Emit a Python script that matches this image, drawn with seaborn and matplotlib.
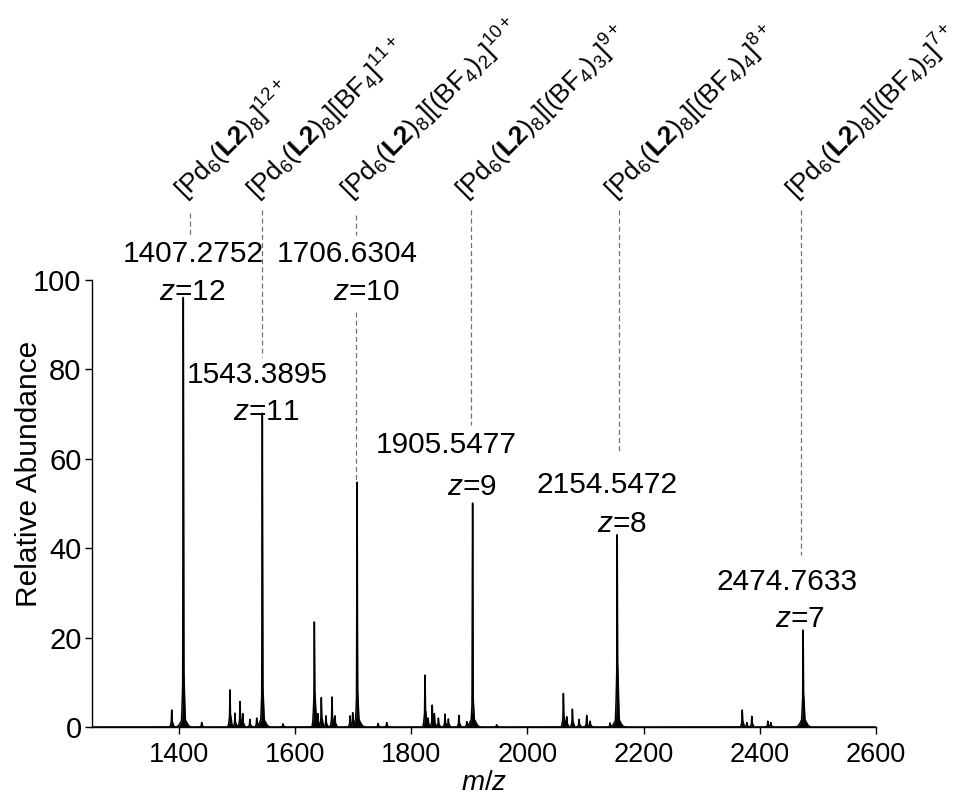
import numpy as np
import pandas as pd
import matplotlib
matplotlib.use("Agg")
import matplotlib.pyplot as plt
import seaborn as sns

# ---- labelled charge states of the cage ----
ion_mz = [1407.2752, 1543.3895, 1706.6304, 1905.5477, 2154.5472, 2474.7633]
ion_height = [96.2, 70.2, 54.8, 50.1, 43.0, 21.7]
ion_shoulder = [14.0, 10.0, 9.0, 7.0, 15.0, 8.0]
ion_charge = [12, 11, 10, 9, 8, 7]
ion_formula = [
    r"[Pd$_6$($\mathbf{L2}$)$_8$]$^{12+}$",
    r"[Pd$_6$($\mathbf{L2}$)$_8$][BF$_4$]$^{11+}$",
    r"[Pd$_6$($\mathbf{L2}$)$_8$][(BF$_4$)$_2$]$^{10+}$",
    r"[Pd$_6$($\mathbf{L2}$)$_8$][(BF$_4$)$_3$]$^{9+}$",
    r"[Pd$_6$($\mathbf{L2}$)$_8$][(BF$_4$)$_4$]$^{8+}$",
    r"[Pd$_6$($\mathbf{L2}$)$_8$][(BF$_4$)$_5$]$^{7+}$",
]

# ---- minor species ----
minor_mz = [1387.3, 1439.0, 1487.7, 1496.3, 1505.0, 1509.6, 1522.0, 1533.7, 1579.0,
            1633.0, 1639.0, 1645.0, 1653.0, 1663.4, 1668.6, 1694.4, 1699.0, 1742.7,
            1757.6, 1823.6, 1829.0, 1836.0, 1839.7, 1846.6, 1858.0, 1863.8, 1882.0,
            1895.5, 1947.0, 2061.9, 2067.7, 2077.4, 2088.9, 2102.0, 2108.0, 2142.3,
            2370.0, 2377.8, 2386.4, 2414.0, 2419.0]
minor_height = [3.8, 1.0, 8.3, 3.1, 5.7, 3.0, 1.7, 2.0, 0.7,
                23.5, 3.0, 6.6, 2.5, 6.7, 2.5, 2.5, 3.2, 0.8,
                1.0, 11.6, 2.0, 4.9, 3.0, 2.0, 2.9, 1.8, 2.6,
                1.2, 0.5, 7.5, 2.3, 4.0, 1.7, 2.6, 1.3, 0.9,
                3.8, 1.0, 2.4, 1.3, 1.0]

# ---- annotation layout (data coordinates) ----
leader_x = [1419.0, 1542.5, 1704.5, 1903.0, 2158.5, 2470.5]
leader_segments = [[(115.0, 110.0)],
                   [(115.7, 82.8)],
                   [(114.5, 110.0), (92.8, 54.8)],
                   [(115.7, 67.5)],
                   [(115.7, 61.3)],
                   [(115.7, 38.5)]]
mass_text_xy = [(1424, 104.0), (1534, 77.0), (1689, 104.0),
                (1860, 61.3), (2138, 52.3), (2447, 30.6)]
charge_text_xy = [(1423, 95.5), (1550, 68.7), (1723, 95.5),
                  (1904, 51.9), (2163, 43.6), (2470, 22.4)]
formula_y = 116.5

sns.set_style("ticks")
plt.rcParams["font.family"] = ["Liberation Sans", "DejaVu Sans"]
plt.rcParams["text.color"] = "black"
plt.rcParams["axes.labelcolor"] = "black"
plt.rcParams["mathtext.fontset"] = "custom"
plt.rcParams["mathtext.rm"] = "Liberation Sans"
plt.rcParams["mathtext.it"] = "Liberation Sans:italic"
plt.rcParams["mathtext.bf"] = "Liberation Sans:bold"

# profile spectrum built from the peak lists
mz = np.arange(1250.0, 2600.0, 0.05)
intensity = np.zeros_like(mz)


def gauss(center, height, sigma):
    return height * np.exp(-0.5 * ((mz - center) / sigma) ** 2)


for c, h, s in zip(ion_mz, ion_height, ion_shoulder):
    intensity = np.maximum(intensity, gauss(c, h, 0.5))
    intensity = np.maximum(intensity, gauss(c + 0.3, s, 1.6))
    intensity = np.maximum(intensity, gauss(c + 0.5, 2.0, 4.5))
for c, h in zip(minor_mz, minor_height):
    intensity = np.maximum(intensity, gauss(c, h, 0.5))
    intensity = np.maximum(intensity, gauss(c + 0.4, 0.35 * h, 1.6))

spec = pd.DataFrame({"mz": mz, "abundance": intensity})

fig = plt.figure(figsize=(9.67, 7.94), dpi=100)
ax = fig.add_axes([0.0951, 0.0844, 0.8106, 0.563])

ax.fill_between(spec["mz"], 0, spec["abundance"], color="black", linewidth=0)
sns.lineplot(data=spec, x="mz", y="abundance", estimator=None, color="black",
             linewidth=1.1, ax=ax)

ax.set_xlim(1250, 2600)
ax.set_ylim(0, 100)
ax.set_xticks(np.arange(1400, 2601, 200))
ax.set_yticks(np.arange(0, 101, 20))
sns.despine(ax=ax)
for side in ("left", "bottom"):
    ax.spines[side].set_linewidth(1.0)
    ax.spines[side].set_color("black")
ax.tick_params(axis="both", direction="out", length=5, width=1.0,
               color="black", labelcolor="black")
ax.tick_params(axis="x", labelsize=19.5, pad=5.5)
ax.tick_params(axis="y", labelsize=21, pad=2.5)

ax.set_xlabel(r"$m/z$", fontsize=20)
ax.set_ylabel("Relative Abundance", fontsize=21.5)
ax.xaxis.set_label_coords(0.5, -0.096)
ax.yaxis.set_label_coords(-0.063, 0.566)

for i in range(len(ion_mz)):
    for (y0, y1) in leader_segments[i]:
        ax.plot([leader_x[i], leader_x[i]], [y0, y1], color="#707070",
                linewidth=0.9, linestyle=(0, (4, 2.5)), clip_on=False)
    mx, my = mass_text_xy[i]
    ax.text(mx, my, f"{ion_mz[i]:.4f}", ha="center", va="baseline",
            fontsize=21.5, clip_on=False)
    cx, cy = charge_text_xy[i]
    ax.text(cx, cy, rf"$z$={ion_charge[i]}", ha="center", va="baseline",
            fontsize=21.5, clip_on=False)
    ax.text(leader_x[i] + 2, formula_y, ion_formula[i], rotation=45,
            rotation_mode="anchor", ha="left", va="bottom", fontsize=19,
            clip_on=False)

fig.savefig("out.png", dpi=100)
